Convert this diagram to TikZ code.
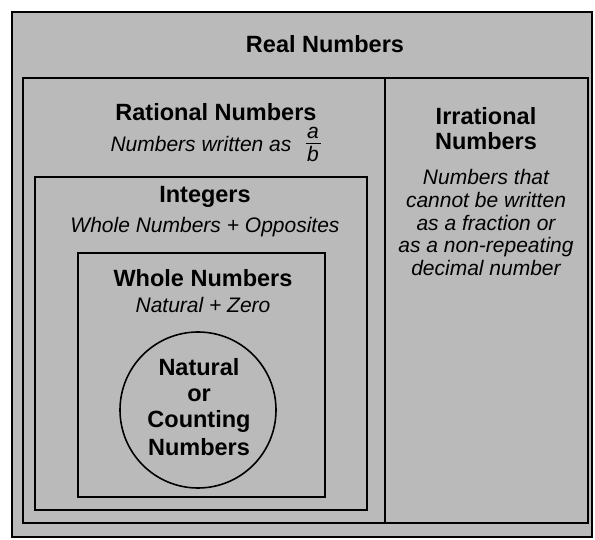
\documentclass[tikz,border=0pt]{standalone}
\usepackage{fontspec}
\setmainfont{Liberation Sans}
\definecolor{halftone}{gray}{0.73}
\tikzset{
  setbox/.style={draw=black, line width=1.6pt},
  title/.style={font=\fontsize{23.5}{25}\selectfont\bfseries, inner sep=0pt, anchor=base},
  desc/.style={font=\fontsize{21}{23}\selectfont\itshape, inner sep=0pt, anchor=base},
}
\begin{document}
\begin{tikzpicture}[x=1pt,y=-1pt]
\useasboundingbox (0,0) rectangle (595,540);
\fill[white] (0,0) rectangle (595,540);
% sets
\draw[setbox, fill=halftone] (12,12) rectangle (592,537);
\draw[setbox] (23,78) rectangle (385,523);
\draw[setbox] (385,78) rectangle (588,523);
\draw[setbox] (35,177) rectangle (367,510);
\draw[setbox] (78,253) rectangle (325,497);
\draw[setbox] (198,410) circle (78);
% Real
\node[title] (real) at (325,53) {Real Numbers};
% Rational
\node[title] (rat) at (216,121) {Rational Numbers};
\node[desc] (ratdesc) at (201,152) {Numbers written as};
\node[desc] (fa) at (313,139) {a};
\node[desc] (fb) at (313,162) {b};
\coordinate (barL) at (305.5,143.5);
\coordinate (barR) at (320.5,143.5);
\draw[line width=1.2pt] (barL) -- (barR);
% Irrational
\node[title] (irr1) at (486,125) {Irrational};
\node[title] (irr2) at (486,150) {Numbers};
\node[desc] (irrd1) at (486,185) {Numbers that};
\node[desc] (irrd2) at (486,207.7) {cannot be written};
\node[desc] (irrd3) at (486,230.4) {as a fraction or};
\node[desc] (irrd4) at (486,253) {as a non-repeating};
\node[desc] (irrd5) at (486,275.8) {decimal number};
% Integers
\node[title] (int) at (205,203) {Integers};
\node[desc] (intdesc) at (205,233) {Whole Numbers + Opposites};
% Whole
\node[title] (whole) at (203,287) {Whole Numbers};
\node[desc] (wholedesc) at (203,313) {Natural + Zero};
% Natural
\node[title] (nat1) at (199,375) {Natural};
\node[title] (nat2) at (199,402) {or};
\node[title] (nat3) at (199,428) {Counting};
\node[title] (nat4) at (199,455) {Numbers};
\end{tikzpicture}
\end{document}
